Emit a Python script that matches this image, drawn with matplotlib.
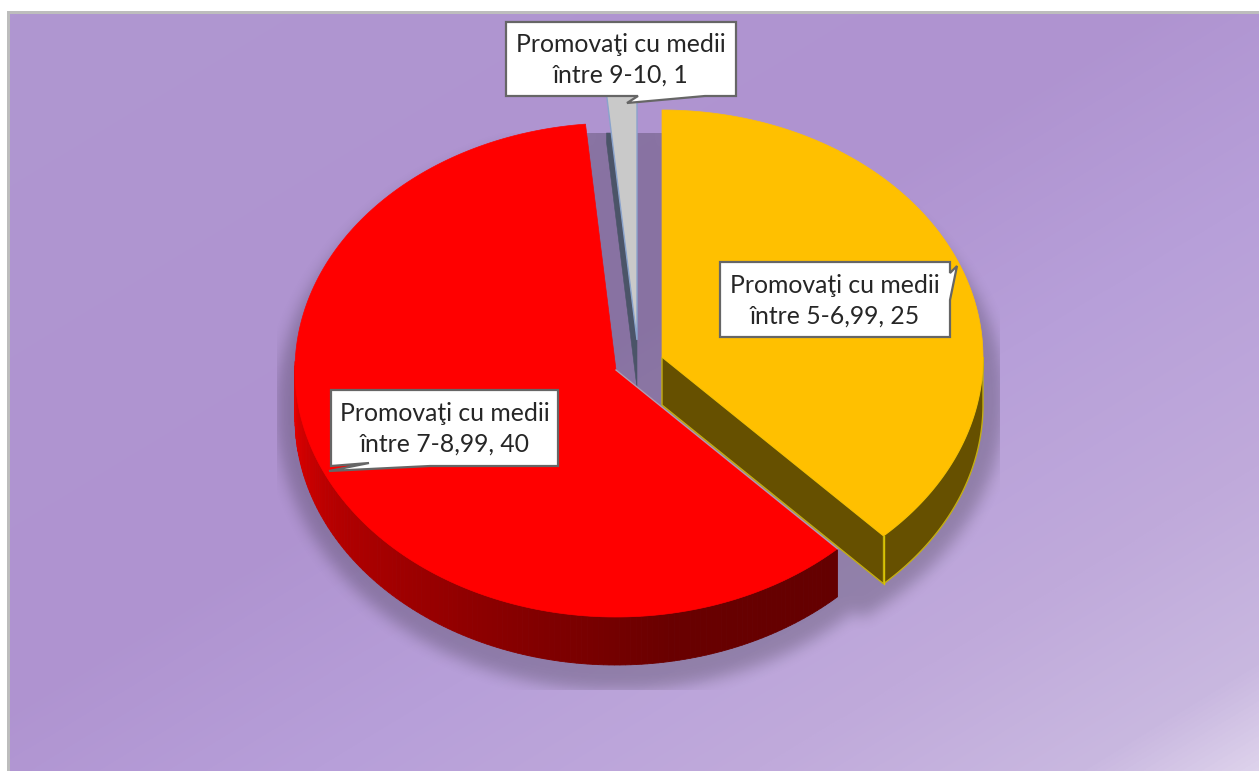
"""3D style pie chart of promoted students by average grade"""

import numpy as np
import matplotlib
matplotlib.use('Agg')
import matplotlib.pyplot as plt
from matplotlib.colors import LinearSegmentedColormap, to_rgb
from matplotlib.patches import Polygon

# Chart data
ranges = ['5-6,99', '7-8,99', '9-10']
values = [25, 40, 1]

plt.rcParams['font.family'] = ['Lato', 'DejaVu Sans']

# Everything is laid out in image pixels
W, H = 1259, 771
RX, RY, DEPTH = 321, 247, 48
centers = [(662, 357), (616, 370), (637, 340)]

fig = plt.figure(figsize=(W / 100, H / 100), dpi=100, facecolor='white')
ax = fig.add_axes([0, 0, 1, 1])
ax.set_xlim(0, W)
ax.set_ylim(H, 0)
ax.axis('off')


def rim(center, a, b, n=200):
    """Points of the top rim between two angles, clockwise from the top"""
    t = np.radians(np.linspace(a, b, n))
    return np.column_stack([center[0] + RX * np.sin(t), center[1] - RY * np.cos(t)])


def blur(mask, n):
    """Two box blurs, one after the other, along both axes"""
    kernel = np.ones(n) / n
    for _ in range(2):
        mask = np.apply_along_axis(np.convolve, 0, mask, kernel, mode='same')
        mask = np.apply_along_axis(np.convolve, 1, mask, kernel, mode='same')
    return mask


# Background gradient and frame
ax.add_patch(plt.Rectangle((7, 11), W, H, color='#BDBDBD', lw=0, zorder=0))
yy, xx = np.mgrid[0:H, 0:W]
diag = (xx / W + yy / H) / 2
bg_map = LinearSegmentedColormap.from_list('bg', [
    (0.0, '#B097D1'), (0.45, '#AF93D0'), (0.62, '#B79FD9'),
    (0.80, '#C0AADB'), (0.93, '#C9B8E0'), (1.0, '#DED3EC')])
ax.imshow(diag, cmap=bg_map, vmin=0, vmax=1, extent=(10, W, H, 14),
          aspect='auto', zorder=1, interpolation='bilinear')

# Soft shadow behind the pie, cut off by a rectangle
sy, sx = np.mgrid[80:750, 220:1060]
shadow = ((sx - 616) / 340) ** 2 + ((sy - 410) / 280) ** 2 < 1
px, py = (sx - 662) / 342, (sy - 400) / 268
angle = np.degrees(np.arctan2(px, -py)) % 360
shadow |= (px ** 2 + py ** 2 < 1) & (angle < values[0] / sum(values) * 360 + 8)
# the gap between the slices is fully in shadow
shadow |= (sx > 580) & (sx < 670) & (sy > 110) & (sy < 420)
shadow = blur(shadow.astype(float), 17)[53:610, 57:780]
shade = np.zeros(shadow.shape + (4,))
shade[..., 3] = shadow * 0.22
ax.imshow(shade, extent=(277, 1000, 690, 133), aspect='auto', zorder=2)

# Slice angles come from the values
stops = np.cumsum([0] + values) / sum(values) * 360
a_yellow, a_red, a_grey = stops[:2], stops[1:3], stops[2:4]

# Grey slice; its dark cut face only shows below the top of the shadow
c = centers[2]
edge = rim(c, a_grey[0], a_grey[1])
ax.add_patch(Polygon([c, (c[0], c[1] + DEPTH), edge[0] + (0, DEPTH), (edge[0][0], 133), (edge[0][0] + 5, 133)],
                     fc='#4B5468', ec='#4B5468', lw=0.4, zorder=3))
ax.add_patch(Polygon(np.vstack([[c], edge]), fc='#C9C9C9', ec='#8AA3CC', lw=1, zorder=4))

# Red slice: shaded side strip, then top
c = centers[1]
ramp_a = [136, 170, 200, 240, 270]
ramp_c = [to_rgb(x) for x in ['#640000', '#690000', '#880000', '#B40000', '#E60000']]
edge = rim(c, a_red[0], 272, 140)
for i in range(len(edge) - 1):
    a = a_red[0] + (272 - a_red[0]) * i / (len(edge) - 1)
    col = [np.interp(a, ramp_a, [r[k] for r in ramp_c]) for k in range(3)]
    quad = [edge[i], edge[i + 1], edge[i + 1] + (0, DEPTH), edge[i] + (0, DEPTH)]
    ax.add_patch(Polygon(quad, fc=col, ec=col, lw=0.6, zorder=5))
ax.add_patch(Polygon(np.vstack([[c], rim(c, a_red[0], a_red[1])]), fc='#FF0000',
                     ec='#FF0000', lw=0.5, zorder=6))
ax.plot([c[0], edge[0][0]], [c[1], edge[0][1]], color='#A9A0B8', lw=1, zorder=6)

# Yellow slice: cut face, outer side, top
c = centers[0]
side_col, line_col = '#665000', '#C4AE10'
edge = rim(c, 90, a_yellow[1])
ax.add_patch(Polygon(np.vstack([edge, edge[::-1] + (0, DEPTH)]), fc=side_col,
                     ec=line_col, lw=1, zorder=7))
ax.add_patch(Polygon([c, (c[0], c[1] + DEPTH), edge[-1] + (0, DEPTH), edge[-1]],
                     fc=side_col, ec=line_col, lw=1, zorder=7))
ax.add_patch(Polygon(np.vstack([[c], rim(c, a_yellow[0], a_yellow[1])]), fc='#FFC000',
                     ec='#FFC000', lw=0.5, zorder=8))
ax.plot([edge[-1][0], edge[-1][0]], [edge[-1][1], edge[-1][1] + DEPTH], color='#D8C400',
        lw=1, zorder=8)

# Callouts
boxes = [(720, 262, 950, 337), (331, 390, 558, 466), (506, 22, 736, 96)]
tails = [[(950, 300), (957, 266), (950, 273)],
         [(430, 466), (329, 471), (369, 463)],
         [(705, 96), (627, 103), (638, 96)]]
for i in range(3):
    x0, y0, x1, y1 = boxes[i]
    if i == 0:
        pts = [(x0, y0), (x1, y0), *tails[i][::-1], (x1, y1), (x0, y1)]
    else:
        pts = [(x0, y0), (x1, y0), (x1, y1), *tails[i], (x0, y1)]
    ax.add_patch(Polygon(pts, fc='white', ec='#666666', lw=1.6, joinstyle='miter', zorder=9))
    ax.text((x0 + x1) / 2, (y0 + y1) / 2 + 1, f'Promovaţi cu medii\nîntre {ranges[i]}, {values[i]}',
            ha='center', va='center', fontsize=17.8, color='#262626', linespacing=1.42, zorder=10)

plt.savefig('out.png', dpi=100)
